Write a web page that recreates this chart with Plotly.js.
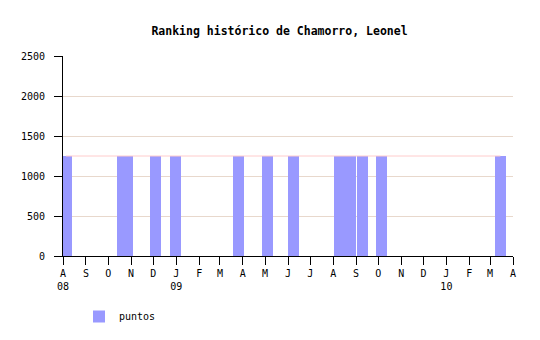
<!DOCTYPE html>
<html>
<head>
<meta charset="utf-8">
<script src="https://cdn.plot.ly/plotly-3.0.1.min.js"></script>
<style>html,body{margin:0;padding:0;background:#fff;}#chart{width:540px;height:340px;}</style>
</head>
<body>
<div id="chart"></div>
<script>
// Data
const fechas = ['2008-08-05','2008-10-20','2008-10-27','2008-12-04','2008-12-31',
                '2009-03-26','2009-05-04','2009-06-08','2009-08-10','2009-08-17',
                '2009-08-24','2009-09-10','2009-10-05','2010-03-15'];
const puntos = [1250,1250,1250,1250,1250,1250,1250,1250,1250,1250,1250,1250,1250,1250];

const tickFechas = ['2008-08-01','2008-09-01','2008-10-01','2008-11-01','2008-12-01',
                    '2009-01-01','2009-02-01','2009-03-01','2009-04-01','2009-05-01',
                    '2009-06-01','2009-07-01','2009-08-01','2009-09-01','2009-10-01',
                    '2009-11-01','2009-12-01','2010-01-01','2010-02-01','2010-03-01','2010-04-01'];
const tickEtiquetas = ['A<br>08','S','O','N','D','J<br>09','F','M','A','M','J','J','A','S','O',
                       'N','D','J<br>10','F','M','A'];
const yTicks = [0,500,1000,1500,2000,2500];

const DAY = 86400000;
const mono = 'DejaVu Sans Mono, Liberation Mono, monospace';

const lineTrace = {
  type: 'scatter', mode: 'lines', x: fechas, y: puntos,
  line: {color: '#ffcccc', width: 1}, showlegend: false, hoverinfo: 'skip'
};
const barTrace = {
  type: 'bar', name: 'puntos', x: fechas, y: puntos,
  width: fechas.map(() => 15 * DAY),
  marker: {color: '#9999ff', line: {width: 0}}
};

const layout = {
  width: 540, height: 340,
  margin: {l: 63, r: 27, t: 56, b: 84, autoexpand: false},
  paper_bgcolor: '#ffffff', plot_bgcolor: '#ffffff',
  font: {family: mono, size: 10, color: '#000'},
  title: {text: '<b>Ranking histórico de Chamorro, Leonel</b>',
          font: {family: mono, size: 11.5, color: '#000'},
          x: 0.5176, xref: 'container', xanchor: 'center',
          y: 1 - 31/340, yref: 'container', yanchor: 'middle', automargin: false},
  barmode: 'overlay',
  bargap: 0,
  xaxis: {
    type: 'date', range: [tickFechas[0], tickFechas[tickFechas.length-1]],
    tickmode: 'array', tickvals: tickFechas, ticktext: tickEtiquetas,
    ticks: 'outside', ticklen: 8, tickcolor: '#000', tickwidth: 1,
    showline: true, linecolor: '#000', linewidth: 1, automargin: false,
    showgrid: false, zeroline: false, tickangle: 0,
    tickfont: {family: mono, size: 10, color: '#000'}
  },
  yaxis: {
    range: [0, 2500], tickmode: 'array', tickvals: yTicks,
    ticks: 'outside', ticklen: 8, tickcolor: '#000', tickwidth: 1,
    showline: true, linecolor: '#000', linewidth: 1, automargin: false,
    ticklabelstandoff: 7,
    showgrid: true, gridcolor: '#e8d8cc', gridwidth: 1, zeroline: false,
    tickfont: {family: mono, size: 10, color: '#000'}
  },
  showlegend: true,
  legend: {orientation: 'h', xref: 'container', x: 79/540, xanchor: 'left',
           yref: 'container', y: 1 - 302/340, yanchor: 'top',
           font: {family: mono, size: 10, color: '#000'}, bgcolor: 'rgba(0,0,0,0)'}
};

Plotly.newPlot('chart', [lineTrace, barTrace], layout, {staticPlot: true, displayModeBar: false});
</script>
</body>
</html>
